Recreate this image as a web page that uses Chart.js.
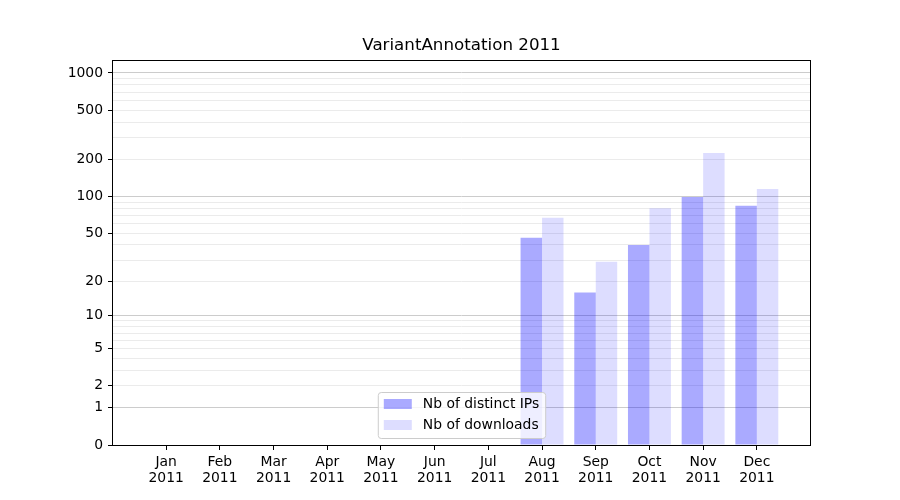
<!DOCTYPE html>
<html>
<head>
<meta charset="utf-8">
<script src="https://cdn.jsdelivr.net/npm/chart.js@4/dist/chart.umd.min.js"></script>
<style>
  html, body { margin: 0; padding: 0; background: #fff; }
</style>
</head>
<body>
<canvas id="chart" width="900" height="500"></canvas>
<script>
// ---------------- DATA ----------------
const months = ["Jan", "Feb", "Mar", "Apr", "May", "Jun", "Jul", "Aug", "Sep", "Oct", "Nov", "Dec"];
const year = "2011";
const distinctIPs = [0, 0, 0, 0, 0, 0, 0, 46, 16, 40, 99, 84];
const downloads = [0, 0, 0, 0, 0, 0, 0, 67, 29, 80, 225, 115];
const yLabelTicks = [0, 1, 2, 5, 10, 20, 50, 100, 200, 500, 1000];
const yMajorGrid = [1, 10, 100, 1000];
const yMinorGrid = [3, 4, 6, 7, 8, 9, 30, 40, 60, 70, 80, 90, 300, 400, 600, 700, 800, 900];

const FONT = "'DejaVu Sans', sans-serif";

// ---------------- log(1+y) SCALE ----------------
class Log1pScale extends Chart.LinearScale {
  static id = "log1p";
  _t(v) { return Math.log10(1 + v); }
  getPixelForValue(value) {
    if (value === null || value === undefined) return NaN;
    const a = this._t(this.min), b = this._t(this.max);
    return this.getPixelForDecimal((this._t(value) - a) / (b - a));
  }
  getValueForPixel(pixel) {
    const a = this._t(this.min), b = this._t(this.max);
    const d = this.getDecimalForPixel(pixel);
    return Math.pow(10, a + d * (b - a)) - 1;
  }
}
Chart.register(Log1pScale);

// ---------------- PLUGINS ----------------
// рамка вокруг области графика
const frame = {
  id: "frame",
  afterDraw(chart) {
    const { ctx, chartArea: a } = chart;
    ctx.save();
    ctx.strokeStyle = "#000";
    ctx.lineWidth = 1;
    const l = Math.round(a.left) - 0.5, t = Math.round(a.top) + 0.5;
    const r = Math.round(a.right) + 0.5, b = Math.round(a.bottom) + 0.5;
    ctx.strokeRect(l, t, r - l, b - t);
    ctx.restore();
  }
};

// легенда внутри графика, снизу по центру
const insideLegend = {
  id: "insideLegend",
  afterDraw(chart) {
    const { ctx, chartArea: a } = chart;
    const sets = chart.data.datasets;
    ctx.save();
    ctx.font = "13.9px " + FONT;
    const tw = Math.max(...sets.map(d => ctx.measureText(d.label).width));
    const w = 6 + 28 + 11 + tw + 6;
    const h = 46;
    const x = (a.left + a.right) / 2 - w / 2;
    const y = a.bottom - 7 - h;
    ctx.beginPath();
    ctx.roundRect(x + 0.5, y + 0.5, w, h, 3);
    ctx.fillStyle = "rgba(255,255,255,0.8)";
    ctx.fill();
    ctx.strokeStyle = "#cccccc";
    ctx.lineWidth = 1;
    ctx.stroke();
    sets.forEach((d, i) => {
      const cy = y + 12 + i * 21;
      ctx.fillStyle = d.backgroundColor;
      ctx.fillRect(x + 6, cy - 5, 28, 10);
      ctx.fillStyle = "#000";
      ctx.textBaseline = "middle";
      ctx.textAlign = "left";
      ctx.fillText(d.label, x + 45, cy);
    });
    ctx.restore();
  }
};

// ---------------- CHART ----------------
Chart.defaults.color = "#000";
Chart.defaults.font.family = FONT;

new Chart(document.getElementById("chart"), {
  type: "bar",
  data: {
    datasets: [
      {
        label: "Nb of distinct IPs",
        data: distinctIPs.map((v, i) => ({ x: i, y: v })),
        backgroundColor: "rgba(0,0,255,0.333)",
        borderWidth: 0
      },
      {
        label: "Nb of downloads",
        data: downloads.map((v, i) => ({ x: i, y: v })),
        backgroundColor: "rgba(0,0,255,0.133)",
        borderWidth: 0
      }
    ]
  },
  options: {
    responsive: false,
    animation: false,
    layout: { padding: { left: 0, right: 90, top: 0, bottom: 0 } },
    datasets: { bar: { barPercentage: 1.0, categoryPercentage: 0.8 } },
    plugins: {
      legend: { display: false },
      tooltip: { enabled: false },
      title: {
        display: true,
        fullSize: false,
        text: "VariantAnnotation 2011",
        color: "#000",
        font: { size: 16.7, weight: "normal", family: FONT, lineHeight: 1.2 },
        padding: { top: 36, bottom: 4 }
      }
    },
    scales: {
      x: {
        type: "linear",
        min: -0.99,
        max: 11.99,
        offset: false,
        border: { display: false },
        grid: { drawOnChartArea: false, offset: false, tickLength: 5, tickColor: "#000" },
        ticks: {
          autoSkip: false,
          maxRotation: 0,
          padding: 5,
          font: { size: 13.9, family: FONT, lineHeight: 1.1 },
          callback: (value) => [months[value], year]
        },
        afterBuildTicks: (s) => { s.ticks = months.map((m, i) => ({ value: i })); },
        afterFit: (s) => { s.height = 55; }
      },
      y: {
        type: "log1p",
        min: 0,
        max: 1270,
        border: { display: false },
        grid: {
          tickLength: 5,
          lineWidth: 1,
          color: (c) => {
            const v = c.tick ? c.tick.value : null;
            if (v === 0) return "rgba(0,0,0,0)";
            return yMajorGrid.includes(v) ? "#cccccc" : "#ebebeb";
          },
          tickColor: (c) => (c.tick && yLabelTicks.includes(c.tick.value)) ? "#000" : "rgba(0,0,0,0)"
        },
        ticks: {
          autoSkip: false,
          padding: 5,
          font: { size: 13.9, family: FONT },
          callback: (value) => yLabelTicks.includes(value) ? String(value) : ""
        },
        afterBuildTicks: (s) => {
          const vals = yLabelTicks.concat(yMinorGrid).sort((a, b) => a - b);
          s.ticks = vals.map(v => ({ value: v }));
        },
        afterFit: (s) => { s.width = 113; }
      }
    }
  },
  plugins: [frame, insideLegend]
});
</script>
</body>
</html>
